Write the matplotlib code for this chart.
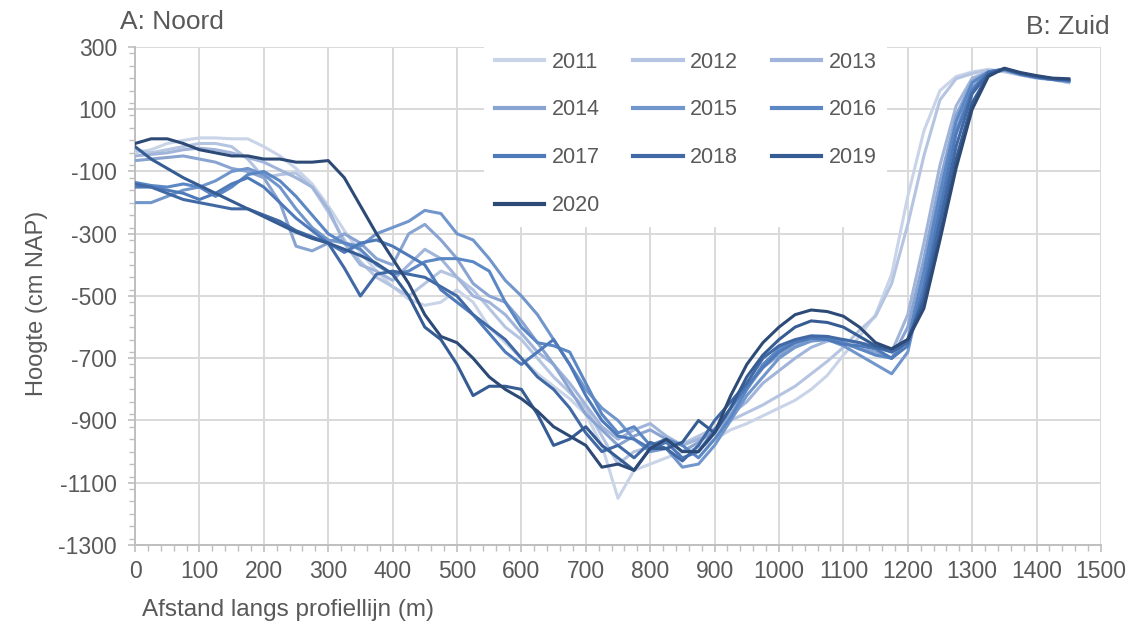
import numpy as np
import matplotlib
matplotlib.use("Agg")
import matplotlib.pyplot as plt
from matplotlib.ticker import MultipleLocator

# afstand langs profiellijn (m), elke 25 m
afstand = list(range(0, 1451, 25))

jaren = ["2011", "2012", "2013", "2014", "2015", "2016", "2017", "2018", "2019", "2020"]
kleuren = ["#c9d4e8", "#b5c5e1", "#a1b5da", "#8aa4d2", "#7096cc", "#5b87c4",
           "#4e7aba", "#4169a6", "#365c94", "#2d4a77"]

h2011 = [-40, -30, -10, 0, 8, 8, 5, 5, -20, -50, -90, -140, -210, -290, -360, -420,
         -470, -510, -530, -520, -480, -520, -600, -650, -700, -750, -790, -830, -880, -980,
         -1150, -1060, -1040, -1020, -1000, -990, -960, -930, -910, -885, -860, -835, -800, -755,
         -690, -630, -560, -430, -180, 30, 160, 205, 220, 228, 220, 210, 200, 195, 188]
h2012 = [-30, -40, -30, -20, -10, -10, -20, -60, -120, -110, -105, -150, -230, -320, -390, -440,
         -470, -500, -460, -420, -440, -480, -540, -600, -640, -700, -760, -810, -860, -950,
         -1040, -1000, -985, -960, -975, -950, -925, -900, -875, -850, -820, -790, -750, -710,
         -665, -610, -565, -460, -270, -50, 130, 198, 215, 226, 222, 210, 200, 195, 185]
h2013 = [-50, -45, -40, -30, -25, -30, -40, -55, -70, -95, -120, -150, -220, -330, -400, -420,
         -450, -400, -350, -380, -440, -500, -520, -560, -620, -680, -720, -780, -850, -920,
         -960, -930, -910, -950, -980, -960, -940, -880, -840, -780, -740, -700, -665, -645,
         -640, -650, -660, -680, -560, -330, -80, 110, 200, 220, 226, 212, 202, 196, 190]
h2014 = [-65, -60, -55, -50, -60, -70, -90, -100, -120, -200, -340, -355, -330, -300, -330, -380,
         -400, -300, -270, -320, -380, -460, -500, -520, -580, -650, -720, -800, -880, -930,
         -980, -950, -930, -960, -1000, -970, -930, -880, -800, -730, -690, -660, -640, -640,
         -650, -670, -680, -700, -600, -380, -130, 80, 190, 220, 226, 212, 202, 196, 190]
h2015 = [-200, -200, -180, -160, -150, -130, -100, -90, -110, -150, -220, -280, -320, -330, -340, -300,
         -280, -260, -225, -235, -300, -320, -380, -450, -500, -560, -640, -720, -800, -860,
         -900, -960, -1000, -990, -1050, -1040, -980, -900, -820, -760, -700, -665, -645, -640,
         -660, -690, -720, -750, -680, -450, -200, 30, 170, 215, 226, 212, 202, 196, 190]
h2016 = [-135, -145, -150, -140, -150, -180, -150, -110, -100, -130, -180, -240, -300, -330, -350, -400,
         -430, -420, -390, -380, -380, -390, -420, -520, -600, -650, -660, -680, -780, -880,
         -940, -920, -980, -960, -980, -1020, -960, -890, -800, -720, -670, -645, -630, -630,
         -650, -670, -690, -700, -640, -420, -170, 60, 185, 220, 228, 213, 203, 196, 190]
h2017 = [-150, -150, -160, -170, -190, -170, -140, -120, -150, -200, -250, -290, -330, -360, -330, -320,
         -340, -370, -400, -480, -520, -560, -620, -680, -720, -680, -640, -720, -820, -900,
         -950, -960, -990, -970, -1020, -1000, -930, -860, -790, -730, -680, -650, -635, -640,
         -655, -660, -670, -700, -660, -470, -220, 20, 160, 220, 230, 213, 203, 196, 192]
h2018 = [-140, -150, -170, -190, -200, -210, -220, -220, -240, -260, -290, -310, -330, -410, -500, -430,
         -420, -430, -440, -470, -500, -560, -600, -640, -700, -760, -800, -860, -940, -1000,
         -980, -1020, -970, -990, -1030, -980, -900, -840, -780, -700, -660, -640, -628, -630,
         -640, -650, -665, -680, -650, -500, -260, -20, 150, 215, 230, 215, 205, 198, 195]
h2019 = [-20, -60, -90, -120, -145, -170, -195, -220, -245, -270, -295, -315, -330, -350, -370, -395,
         -430, -500, -600, -640, -720, -820, -790, -790, -800, -880, -980, -960, -920, -980,
         -1020, -1060, -990, -990, -970, -900, -940, -860, -760, -690, -640, -600, -580, -585,
         -600, -630, -660, -670, -640, -520, -300, -60, 120, 210, 230, 216, 206, 198, 195]
h2020 = [-10, 5, 5, -10, -30, -40, -50, -50, -60, -60, -70, -70, -65, -120, -210, -300,
         -380, -460, -560, -630, -650, -700, -760, -800, -830, -870, -920, -950, -980, -1050,
         -1040, -1060, -990, -960, -1000, -1000, -940, -820, -720, -650, -600, -560, -545, -550,
         -565, -600, -650, -670, -640, -540, -320, -90, 100, 205, 232, 218, 208, 200, 198]

hoogtes = [h2011, h2012, h2013, h2014, h2015, h2016, h2017, h2018, h2019, h2020]

tekst = "#595959"
plt.rcParams["font.family"] = ["Liberation Sans", "DejaVu Sans"]
plt.rcParams["axes.unicode_minus"] = False

fig = plt.figure(figsize=(11.27, 6.36), dpi=100)
ax = fig.add_axes([0.1198, 0.1431, 0.8571, 0.7830])

lijnen = {}
for jaar, kleur, h in zip(jaren, kleuren, hoogtes):
    lijnen[jaar], = ax.plot(afstand, h, color=kleur, linewidth=2.2, label=jaar,
                            solid_joinstyle="round", zorder=3)

ax.set_xlim(0, 1500)
ax.set_ylim(-1300, 300)
ax.set_xticks(np.arange(0, 1501, 100))
ax.set_yticks(np.arange(-1300, 301, 200))
ax.xaxis.set_minor_locator(MultipleLocator(20))
ax.yaxis.set_minor_locator(MultipleLocator(40))
ax.grid(True, which="major", color="#d9d9d9", linewidth=1.4, zorder=0)
ax.set_axisbelow(True)
for s in ("top", "right"):
    ax.spines[s].set_visible(False)
for s in ("left", "bottom"):
    ax.spines[s].set_color("#bfbfbf")
    ax.spines[s].set_linewidth(1.4)
ax.tick_params(which="major", direction="out", length=5, width=1.2, color="#bfbfbf",
               labelsize=16.5, labelcolor=tekst)
ax.tick_params(which="minor", direction="out", length=4, width=1.0, color="#bfbfbf")
ax.tick_params(axis="x", pad=6)
ax.tick_params(axis="y", pad=8)

# legenda rij voor rij, matplotlib vult kolom voor kolom
volgorde = ["2011", "2014", "2017", "2020", "2012", "2015", "2018", "2013", "2016", "2019"]
leg = ax.legend([lijnen[j] for j in volgorde], volgorde, ncol=3, loc="upper left",
                bbox_to_anchor=(473 / 1127, 1 - 30 / 636), bbox_transform=fig.transFigure,
                fontsize=15.5, frameon=True, facecolor="white", edgecolor="none", framealpha=1,
                fancybox=False, handlelength=2.3, handletextpad=0.35, columnspacing=1.55,
                labelspacing=1.25, borderpad=0.5)
leg.set_zorder(5)
for t in leg.get_texts():
    t.set_color(tekst)
for l in leg.get_lines():
    l.set_linewidth(3.0)

fig.text(120 / 1127, 1 - 29 / 636, "A: Noord", fontsize=19, color=tekst, va="baseline", ha="left")
fig.text(1110 / 1127, 1 - 34 / 636, "B: Zuid", fontsize=19, color=tekst, va="baseline", ha="right")
fig.text(142 / 1127, 1 - 616 / 636, "Afstand langs profiellijn (m)", fontsize=17.5,
         color=tekst, va="baseline", ha="left")
fig.text(37 / 1127, 1 - 303 / 636, "Hoogte (cm NAP)", fontsize=17, color=tekst,
         rotation=90, va="center", ha="center")

fig.savefig("out.png", dpi=100, facecolor="white")
